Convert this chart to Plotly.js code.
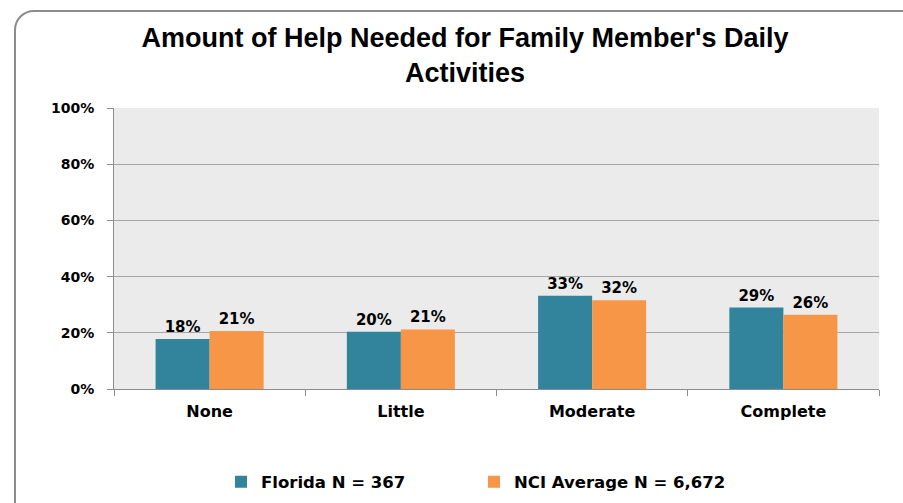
<!DOCTYPE html>
<html><head><meta charset="utf-8">
<script src="https://cdn.plot.ly/plotly-3.0.1.min.js"></script>
<style>
html,body{margin:0;padding:0;background:#fff;width:903px;height:503px;overflow:hidden;}
#frame{position:absolute;left:14px;top:10px;width:920px;height:520px;border:2px solid #8c8c8c;border-radius:20px;box-sizing:border-box;}
#chart{position:absolute;left:0;top:0;width:903px;height:503px;}
</style></head>
<body>
<div id="frame"></div>
<div id="chart"></div>
<script>
const categories = ["None", "Little", "Moderate", "Complete"];
const florida = [17.8, 20.4, 33.2, 29.0];
const nci = [20.6, 21.2, 31.6, 26.4];
const seriesNames = ["Florida N = 367", "NCI Average N = 6,672"];
const yTicks = [0, 20, 40, 60, 80, 100];

const font = "DejaVu Sans, Verdana, sans-serif";
const labelFont = {family: font, size: 15, color: "#000", weight: "bold"};

const traces = [
  {type: "bar", name: seriesNames[0], x: categories, y: florida,
   marker: {color: "#31849B"}, text: florida.map(v => Math.round(v) + "%"),
   textposition: "outside", textfont: labelFont, cliponaxis: false, hoverinfo: "none"},
  {type: "bar", name: seriesNames[1], x: categories, y: nci,
   marker: {color: "#F79646"}, text: nci.map(v => Math.round(v) + "%"),
   textposition: "outside", textfont: labelFont, cliponaxis: false, hoverinfo: "none"}
];

const layout = {
  width: 903, height: 503,
  margin: {l: 114, r: 24, t: 108, b: 114, autoexpand: false},
  paper_bgcolor: "rgba(0,0,0,0)",
  plot_bgcolor: "#EBEBEB",
  barmode: "group", bargap: 0.435, bargroupgap: 0,
  showlegend: true,
  title: {text: "<b>Amount of Help Needed for Family Member's Daily<br>Activities</b>",
          font: {family: "Liberation Sans Narrow, Liberation Sans, Arial, sans-serif", size: 27, color: "#000"},
          x: 465/903, xanchor: "center", xref: "container", y: 1 - 47/503, yref: "container", yanchor: "middle"},
  xaxis: {type: "category", showline: true, linecolor: "#8c8c8c", linewidth: 1,
          ticks: "outside", tickson: "boundaries", ticklen: 6, tickcolor: "#8c8c8c",
          ticklabelstandoff: 8, automargin: false,
          tickfont: {family: font, size: 16, color: "#000", weight: "bold"}, showgrid: false},
  yaxis: {range: [0, 100], tickvals: yTicks, ticktext: yTicks.map(v => v + "%"),
          showline: true, linecolor: "#8c8c8c", linewidth: 1,
          ticks: "outside", ticklen: 6, tickcolor: "#8c8c8c", automargin: false,
          ticklabelstandoff: 10,
          gridcolor: "#a6a6a6", gridwidth: 1, zeroline: false,
          tickfont: {family: font, size: 14, color: "#000", weight: "bold"}},
  legend: {orientation: "h", x: (221-114)/765, xanchor: "left", y: -0.331, yanchor: "middle",
           font: {family: font, size: 16.5, color: "#000", weight: "bold"},
           itemwidth: 30, traceorder: "normal", entrywidth: 208},
  font: {family: font}
};

Plotly.newPlot("chart", traces, layout, {displayModeBar: false, staticPlot: true});
</script>
</body></html>
